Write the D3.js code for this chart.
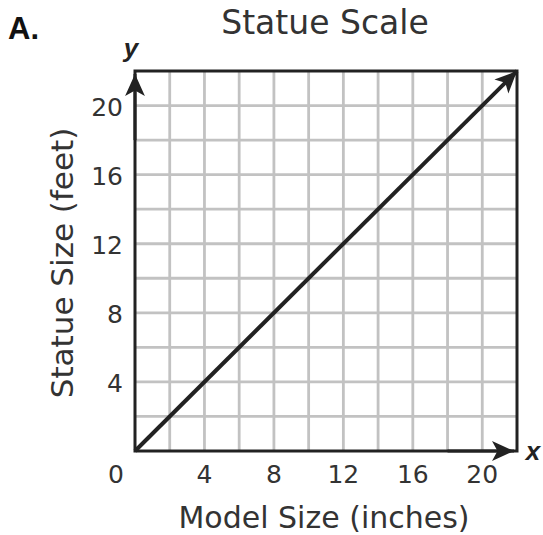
<!DOCTYPE html>
<html><head><meta charset="utf-8">
<script src="https://cdn.jsdelivr.net/npm/d3@7"></script>
<style>body{margin:0;background:#fff}svg{display:block}</style>
</head><body>
<svg id="c" width="543" height="535"></svg>
<script>
const title = "Statue Scale";
const panelLabel = "A.";
const xLabel = "Model Size (inches)";
const yLabel = "Statue Size (feet)";
const xTicks = [4, 8, 12, 16, 20];
const yTicks = [4, 8, 12, 16, 20];
const gridValues = [2, 4, 6, 8, 10, 12, 14, 16, 18, 20];
const domainMax = 22;
const lineX = [0, 22];
const lineY = [0, 22];

const svg = d3.select("#c");
const font = "DejaVu Sans, Verdana, sans-serif";
const x = d3.scaleLinear().domain([0, domainMax]).range([135, 517]);
const y = d3.scaleLinear().domain([0, domainMax]).range([451, 71]);

// grid
svg.append("g").selectAll("line").data(gridValues).join("line")
  .attr("x1", d => x(d)).attr("x2", d => x(d)).attr("y1", y(0)).attr("y2", y(domainMax))
  .attr("stroke", "#c2c2c2").attr("stroke-width", 2.8);
svg.append("g").selectAll("line").data(gridValues).join("line")
  .attr("y1", d => y(d)).attr("y2", d => y(d)).attr("x1", x(0)).attr("x2", x(domainMax))
  .attr("stroke", "#c2c2c2").attr("stroke-width", 2.8);

// border
svg.append("rect").attr("x", x(0)).attr("y", y(domainMax))
  .attr("width", x(domainMax) - x(0)).attr("height", y(0) - y(domainMax))
  .attr("fill", "none").attr("stroke", "#222").attr("stroke-width", 3);

const defs = svg.append("defs");
defs.append("marker").attr("id", "ah").attr("viewBox", "0 0 10 10")
  .attr("refX", 10).attr("refY", 5).attr("markerWidth", 22).attr("markerHeight", 22)
  .attr("markerUnits", "userSpaceOnUse").attr("orient", "auto")
  .append("path").attr("d", "M0,0.5 L10,5 L0,9.5 L2.5,5 Z").attr("fill", "#222");

// data line
const line = d3.line().x(d => x(d[0])).y(d => y(d[1]));
svg.append("path").datum(lineX.map((v, i) => [v, lineY[i]]))
  .attr("d", line).attr("fill", "none").attr("stroke", "#222").attr("stroke-width", 4)
  .attr("marker-end", "url(#ah)");

// axis arrows
svg.append("line").attr("x1", x(0)).attr("y1", y(18)).attr("x2", x(0)).attr("y2", y(domainMax) + 3)
  .attr("stroke", "#222").attr("stroke-width", 3).attr("marker-end", "url(#ah)");
svg.append("line").attr("x1", x(18)).attr("y1", y(0)).attr("x2", x(domainMax) - 3).attr("y2", y(0))
  .attr("stroke", "#222").attr("stroke-width", 3).attr("marker-end", "url(#ah)");

// tick labels
svg.append("g").selectAll("text").data(xTicks).join("text")
  .attr("x", d => x(d)).attr("y", 483).attr("text-anchor", "middle")
  .attr("font-family", font).attr("font-size", 25).attr("fill", "#333").text(d => d);
svg.append("g").selectAll("text").data(yTicks).join("text")
  .attr("x", 123).attr("y", d => y(d) + 10).attr("text-anchor", "end")
  .attr("font-family", font).attr("font-size", 25).attr("fill", "#333").text(d => d);
svg.append("text").attr("x", 116).attr("y", 483).attr("text-anchor", "middle")
  .attr("font-family", font).attr("font-size", 25).attr("fill", "#333").text(0);

// axis letters
svg.append("text").attr("x", 131).attr("y", 57).attr("text-anchor", "middle")
  .attr("font-family", "Liberation Sans, Arial, sans-serif").attr("font-weight", "bold")
  .attr("font-style", "italic").attr("font-size", 26).attr("fill", "#222").text("y");
svg.append("text").attr("x", 533).attr("y", 460).attr("text-anchor", "middle")
  .attr("font-family", "Liberation Sans, Arial, sans-serif").attr("font-weight", "bold")
  .attr("font-style", "italic").attr("font-size", 26).attr("fill", "#222").text("x");

// titles
svg.append("text").attr("x", 325).attr("y", 34).attr("text-anchor", "middle")
  .attr("font-family", font).attr("font-size", 33).attr("fill", "#333").text(title);
svg.append("text").attr("x", 8).attr("y", 39)
  .attr("font-family", "Liberation Sans, Arial, sans-serif").attr("font-weight", "bold")
  .attr("font-size", 31).attr("fill", "#111").text(panelLabel);
svg.append("text").attr("x", 324).attr("y", 528).attr("text-anchor", "middle")
  .attr("font-family", font).attr("font-size", 30).attr("fill", "#333").text(xLabel);
svg.append("text").attr("transform", "translate(73,263) rotate(-90)").attr("text-anchor", "middle")
  .attr("font-family", font).attr("font-size", 31).attr("fill", "#333").text(yLabel);
</script>
</body></html>
